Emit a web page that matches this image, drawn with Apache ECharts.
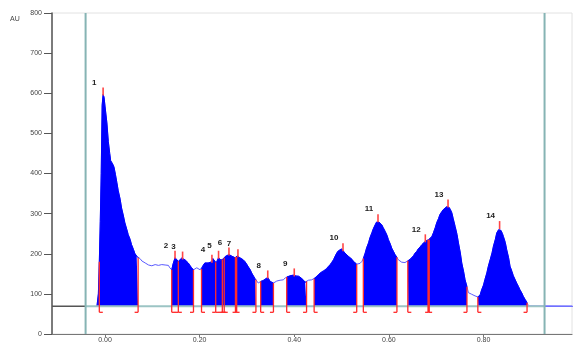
<!DOCTYPE html>
<html><head><meta charset="utf-8">
<script src="https://cdn.jsdelivr.net/npm/echarts@6/dist/echarts.min.js"></script>
<style>html,body{margin:0;padding:0;background:#fff}#c{width:577px;height:346px}</style>
</head><body><div id="c"></div>
<script>
// ---- data ----
const times = [-0.017,-0.014,-0.012,-0.010,-0.008,-0.006,-0.004,-0.002,0.000,0.004,0.007,0.010,0.012,0.016,0.019,0.022,0.025,0.028,0.032,0.035,0.039,0.042,0.046,0.049,0.053,0.056,0.060,0.063,0.067,0.070,
0.074,0.078,0.081,0.085,0.088,0.092,0.095,0.099,0.102,0.106,0.109,0.113,0.116,0.120,0.123,0.127,0.130,0.134,0.137,0.141,
0.144,0.148,0.152,0.155,0.159,0.162,0.166,0.169,0.173,0.176,0.180,0.183,0.187,
0.190,0.194,0.197,0.201,0.204,
0.208,0.211,0.215,0.218,0.222,0.226,0.228,0.230,0.235,0.240,0.245,0.250,0.254,0.257,0.262,0.268,0.271,0.275,0.280,0.285,0.289,0.292,0.296,0.300,0.303,0.307,0.310,0.314,0.317,0.319,
0.324,0.329,0.334,0.338,0.344,0.349,0.352,0.356,
0.359,0.363,0.366,0.370,0.374,0.377,0.381,
0.384,0.388,0.391,0.395,0.398,0.402,0.405,0.409,0.412,0.416,0.419,0.423,0.426,
0.430,0.433,0.437,0.440,
0.444,0.448,0.451,0.455,0.458,0.462,0.465,0.469,0.472,0.476,0.479,0.483,0.486,0.490,0.493,0.497,0.500,0.504,0.507,0.511,0.514,0.518,0.522,0.525,0.529,0.532,
0.536,0.539,0.543,
0.546,0.550,0.553,0.557,0.560,0.564,0.567,0.571,0.574,0.577,0.579,0.582,0.585,0.588,0.592,0.596,0.599,0.603,0.606,0.610,0.613,0.617,
0.620,0.624,0.627,0.631,0.634,0.638,
0.641,0.645,0.648,0.652,0.655,0.659,0.662,0.666,0.670,0.673,0.677,0.680,0.684,0.687,0.691,0.694,0.698,0.701,0.705,0.708,0.712,0.715,0.719,0.722,0.725,0.727,0.730,0.733,0.736,0.740,0.744,0.747,0.751,0.754,0.758,0.761,0.765,
0.768,0.772,0.775,0.779,0.782,0.786,
0.789,0.793,0.796,0.800,0.803,0.807,0.810,0.814,0.818,0.821,0.825,0.828,0.832,0.834,0.837,0.840,0.842,0.846,0.849,0.853,0.856,0.860,0.863,0.867,0.870,0.874,0.877,0.881,0.884,0.888,0.892,0.895,0.899,0.990];
const signal = [69,100,180,280,400,570,597,590,568,526,480,450,432,424,416,398,378,357,336,314,294,277,261,248,236,223,211,201,194,190,
188,182,181,177,177,172,173,170,169,173,175,171,170,173,169,172,170,171,165,160,
175,190,186,181,185,189,187,185,181,177,170,165,160,
164,165,161,160,162,
172,177,178,177,179,180,188,185,177,190,184,187,193,195,198,194,192,190,195,190,188,185,180,173,167,160,152,144,138,135,
127,131,133,135,141,131,129,127,
128,132,131,134,133,135,140,
142,143,145,146,147,145,144,145,142,138,135,129,131,
134,133,135,136,
140,144,148,152,155,157,160,163,168,173,178,185,193,202,207,210,212,208,202,198,194,190,186,181,177,174,
173,176,181,
188,202,215,227,240,252,262,272,279,281,279,276,272,265,256,246,235,224,214,205,198,191,
185,182,179,179,178,181,
183,186,190,195,201,206,212,217,223,227,231,231,235,236,243,252,265,277,288,298,305,310,314,317,318,316,310,302,287,268,248,227,202,177,155,135,118,
103,100,99,96,95,93,
92,98,110,122,136,152,168,185,202,219,236,252,260,264,258,250,243,228,210,190,169,156,145,135,127,118,110,102,94,86,78,70,69,69];
const segmentStarts = [-0.017,0.141,0.204,0.329,0.384,0.442,0.546,0.640,0.788];
const segmentEnds   = [0.070,0.187,0.319,0.356,0.426,0.532,0.617,0.765,0.892];
const boundaryTimes = [-0.012,0.070,0.141,0.155,0.187,0.204,0.234,0.248,0.252,0.277,0.319,0.329,0.356,0.384,0.426,0.442,0.532,0.546,0.617,0.640,0.684,0.765,0.788,0.892];
const boundaryKinds = [1,-1,1,0,-1,1,0,0,0,0,-1,1,-1,1,-1,1,-1,1,-1,1,0,-1,1,-1];
const boundaryBold  = [0,0,0,0,0,0,0,0,0,1,0,0,0,0,0,0,0,0,0,0,1,0,0,0];
const peakNames = ['1','2','3','4','5','6','7','8','9','10','11','12','13','14'];
const peakTimes = [-0.004,0.148,0.164,0.226,0.240,0.262,0.281,0.344,0.400,0.503,0.577,0.677,0.725,0.834];
const baselineValue = 69;
const markerTimes = [-0.041,0.929];
const xTickValues = [0,0.2,0.4,0.6,0.8];
const xMin = -0.112, xMax = 0.987;
const yMin = 0, yMax = 800, yStep = 100;
const yAxisTitle = 'AU';

// ---- helpers ----
function valueAt(t){
  for(let i=0;i<times.length-1;i++){
    if(t>=times[i] && t<=times[i+1]){
      const f=(t-times[i])/(times[i+1]-times[i]);
      return signal[i]+f*(signal[i+1]-signal[i]);
    }
  }
  return baselineValue;
}
function segmentData(a,b){
  const d=[[a,valueAt(a)]];
  times.forEach((t,i)=>{ if(t>a && t<b) d.push([t,signal[i]]); });
  d.push([b,valueAt(b)]);
  return d;
}

const FONT = 'Liberation Sans, Arial, sans-serif';
const series = [];
series.push({type:'line', data: times.map((t,i)=>[t,signal[i]]), showSymbol:false, silent:true,
  lineStyle:{color:'#5a5aff', width:1}, z:1});
segmentStarts.forEach((a,k)=>{
  series.push({type:'line', data: segmentData(a,segmentEnds[k]), showSymbol:false, silent:true,
    lineStyle:{color:'#0000ff', width:1}, areaStyle:{color:'#0000ff', opacity:1, origin: baselineValue}, z:2});
});
series.push({type:'line', data:[[xMin,baselineValue],[markerTimes[0],baselineValue]], showSymbol:false, silent:true,
  lineStyle:{color:'#555', width:1.5}, z:3});
series.push({type:'line', data:[[markerTimes[0],baselineValue],[markerTimes[1],baselineValue]], showSymbol:false, silent:true,
  lineStyle:{color:'#9cc4c4', width:2}, z:3});
series.push({type:'line', data:[[markerTimes[1],baselineValue],[xMax,baselineValue]], showSymbol:false, silent:true,
  lineStyle:{color:'#7070ff', width:1.5}, z:3});
markerTimes.forEach(t=>{
  series.push({type:'line', data:[[t,yMin],[t,yMax]], showSymbol:false, silent:true,
    lineStyle:{color:'#86b4b4', width:2}, z:4});
});
series.push({type:'custom', coordinateSystem:'cartesian2d', silent:true, z:5,
  data: boundaryTimes.map((t,i)=>[t, valueAt(t), boundaryKinds[i], boundaryBold[i]]),
  encode:{x:0,y:1},
  renderItem(params, api){
    const t=api.value(0), v=api.value(1), k=api.value(2), b=api.value(3);
    const top=api.coord([t,v]);
    const base=api.coord([t,baselineValue]);
    const by=base[1]+6;
    const w=b?2.5:1.3;
    const st={stroke:'#ff2b2b', lineWidth:w};
    const ch=[{type:'line', shape:{x1:top[0],y1:top[1],x2:top[0],y2:by}, style:st}];
    if(k>=0) ch.push({type:'line', shape:{x1:top[0],y1:by,x2:top[0]+3.5,y2:by}, style:{stroke:'#ff2b2b',lineWidth:1.3}});
    if(k<=0) ch.push({type:'line', shape:{x1:top[0]-3.5,y1:by,x2:top[0],y2:by}, style:{stroke:'#ff2b2b',lineWidth:1.3}});
    return {type:'group', children:ch};
  }
});
series.push({type:'custom', coordinateSystem:'cartesian2d', silent:true, z:6,
  data: peakTimes.map((t,i)=>[t, valueAt(t), i]),
  encode:{x:0,y:1},
  renderItem(params, api){
    const t=api.value(0), v=api.value(1), i=api.value(2);
    const p=api.coord([t,v]);
    return {type:'group', children:[
      {type:'line', shape:{x1:p[0],y1:p[1]+1,x2:p[0],y2:p[1]-7}, style:{stroke:'#ff4545', lineWidth:1.6}},
      {type:'text', x:p[0]-9, y:p[1]-12, style:{text:peakNames[i], fill:'#222', font:'bold 8px '+FONT, align:'center', verticalAlign:'middle'}}
    ]};
  }
});

const chart = echarts.init(document.getElementById('c'), null, {renderer:'canvas'});
chart.setOption({
  animation:false,
  backgroundColor:'#fff',
  grid:{left:52, right:5, top:13, bottom:12, show:true, borderColor:'#e2e2e2', borderWidth:1, backgroundColor:'transparent'},
  xAxis:{type:'value', min:xMin, max:xMax,
    axisLine:{show:true, onZero:false, lineStyle:{color:'#777', width:1.2}},
    axisTick:{show:true, length:3, customValues:xTickValues, lineStyle:{color:'#777'}},
    axisLabel:{customValues:xTickValues, formatter:v=>v.toFixed(2), fontSize:7, color:'#444', margin:3, fontFamily:FONT},
    splitLine:{show:false}},
  yAxis:{type:'value', min:yMin, max:yMax, interval:yStep,
    axisLine:{show:true, onZero:false, lineStyle:{color:'#555', width:1.5}},
    axisTick:{show:true, length:8, lineStyle:{color:'#555'}},
    axisLabel:{fontSize:7, color:'#444', margin:10, fontFamily:FONT},
    splitLine:{show:false}},
  graphic:[{type:'text', left:10, top:16, style:{text:yAxisTitle, fill:'#444', font:'7px '+FONT}}],
  series: series
});
</script>
</body></html>
